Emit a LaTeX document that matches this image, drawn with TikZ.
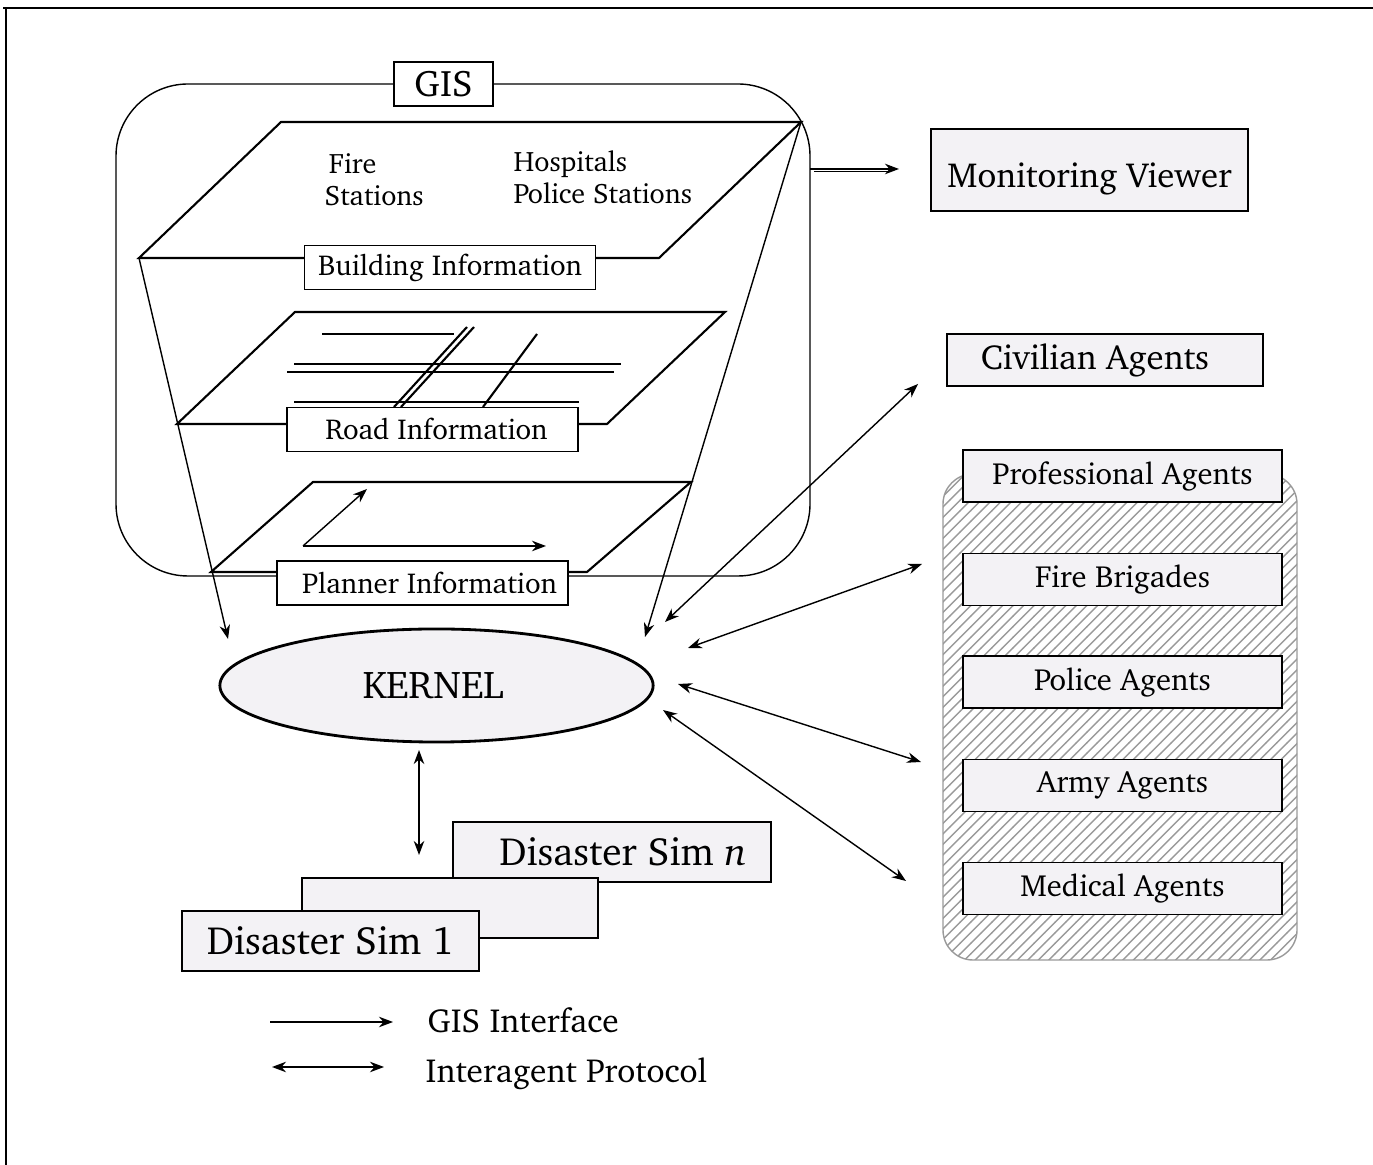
\documentclass[tikz,border=0pt]{standalone}
\usepackage[T1]{fontenc}
\renewcommand{\rmdefault}{bch}
\usepackage{tikz}
\usetikzlibrary{shapes.geometric,arrows.meta,patterns}
\definecolor{boxgrey}{HTML}{F3F2F5}
\definecolor{hatchgrey}{HTML}{9A9A9A}
\tikzset{
  layer/.style={line width=0.6pt},
  infolabel/.style={draw, fill=white, line width=0.5pt, minimum width=2.91cm, minimum height=0.44cm, inner sep=0pt, font=\fontsize{8.2}{9.5}\selectfont},
  agentbox/.style={draw, fill=boxgrey, line width=0.5pt, minimum width=3.19cm, minimum height=0.52cm, inner sep=0pt, font=\fontsize{8.7}{10}\selectfont},
  simbox/.style={draw, fill=boxgrey, line width=0.5pt, minimum height=0.6cm, inner sep=0pt, font=\fontsize{11.2}{13}\selectfont},
  plain/.style={inner sep=0pt, font=\fontsize{8}{9.1}\selectfont}
}

\begin{document}
\begin{tikzpicture}[x=0.01cm,y=-0.01cm,>={Stealth[length=4pt,width=3pt]},line width=0.4pt]
\useasboundingbox (0,0) rectangle (1373,1165);
% frame
\draw[line width=0.7pt] (3,8) -- (1373,8);
\draw[line width=0.7pt] (6,8) -- (6,1165);

% GIS
\draw[rounded corners=0.72cm] (116,84) rectangle (810,576);
\node[draw, fill=white, minimum width=0.99cm, minimum height=0.44cm, inner sep=0pt,
  font=\fontsize{10.5}{12}\selectfont] (gis) at (443.5,84) {GIS};

% building layer
\coordinate (bTL) at (281,122);
\coordinate (bTR) at (801,122);
\coordinate (bBR) at (659,258);
\coordinate (bBL) at (139,258);
\draw[layer] (bBL) -- (bTL) -- (bTR) -- (bBR) -- cycle;
\node[plain, align=left, anchor=west] (firest) at (324,180) {\hspace{1.2pt}Fire\\Stations};
\node[plain, align=left, anchor=west] (hosp) at (513,177) {Hospitals\\Police Stations};
\node[infolabel] (building) at (450,267.5) {Building Information};

% road layer
\draw[layer] (177,424) -- (295,312) -- (725,312) -- (607,424) -- cycle;
\draw[layer] (322,334) -- (454,334);
\draw[layer] (294,364) -- (621,364);
\draw[layer] (287,372) -- (614,372);
\draw[layer] (294,402) -- (579,402);
\draw[layer] (467,327) -- (394,407);
\draw[layer] (474,327) -- (401,407);
\draw[layer] (537,334) -- (483,407);
\node[infolabel] (road) at (432.5,429.5) {\hspace{0.08cm}Road Information};

% planner layer
\draw[layer] (211,572) -- (313,482) -- (691,482) -- (587,572) -- cycle;
\coordinate (pO) at (303,546);
\draw[->] (pO) -- (367,489);
\draw[->] (pO) -- (546,546);
\node[infolabel] (planner) at (422.5,583) {\hspace{0.14cm}Planner Information};

% kernel
\node[ellipse, draw, fill=boxgrey, line width=0.8pt, minimum width=4.33cm, minimum height=1.13cm,
  inner sep=0pt, font=\fontsize{11}{13}\selectfont] (kernel) at (436.5,685.5) {KERNEL\kern0.07cm};

% GIS interface arrows
\coordinate (kGl) at (228,639);
\coordinate (kGr) at (645,637);
\draw[->] (bBL) -- (kGl);
\draw[->] (bTR) -- (kGr);

% monitoring viewer
\node[draw, fill=boxgrey, line width=0.5pt, minimum width=3.17cm, minimum height=0.82cm, inner sep=0pt,
  text height=12.5pt, text depth=2.5pt,
  font=\fontsize{9.9}{11}\selectfont] (viewer) at (1089.5,170) {Monitoring Viewer};
\coordinate (mS) at (810,169);
\coordinate (mE) at (899,169);
\draw[->] (mS) -- (mE);
\draw (814,171.5) -- (890,171.5);

% agents
\node[draw, fill=boxgrey, line width=0.5pt, minimum width=3.16cm, minimum height=0.52cm, inner sep=0pt,
  font=\fontsize{9.9}{11}\selectfont] (civil) at (1105,360) {Civilian Agents\kern0.2cm};
\draw[hatchgrey, rounded corners=0.3cm, pattern=north east lines, pattern color=hatchgrey]
  (943,474) rectangle (1297,960);
\node[agentbox] (prof) at (1122.5,476) {Professional Agents};
\node[agentbox] (fire) at (1122.5,579.5) {Fire Brigades};
\node[agentbox] (police) at (1122.5,682) {Police Agents};
\node[agentbox] (army) at (1122.5,785.5) {Army Agents};
\node[agentbox] (medic) at (1122.5,888.5) {Medical Agents};

% interagent arrows
\coordinate (kC) at (665,622);
\coordinate (aC) at (918,384);
\coordinate (kF) at (688,648);
\coordinate (aF) at (922,564);
\coordinate (kA) at (678,684);
\coordinate (aA) at (921,762);
\coordinate (kM) at (663,710);
\coordinate (aM) at (906,881);
\draw[<->] (kC) -- (aC);
\draw[<->] (kF) -- (aF);
\draw[<->] (kA) -- (aA);
\draw[<->] (kM) -- (aM);

% disaster simulators
\node[simbox, minimum width=3.18cm] (simn) at (612,852) {\hspace{0.22cm}Disaster Sim \textit{n}};
\node[simbox, minimum width=2.96cm] (simmid) at (450,908) {};
\node[simbox, minimum width=2.97cm] (sim1) at (330.5,941) {Disaster Sim 1};
\coordinate (kS) at (419,750);
\coordinate (sS) at (419,855);
\draw[<->] (kS) -- (sS);

% legend
\coordinate (l1a) at (270,1022);
\coordinate (l1b) at (393,1022);
\coordinate (l2a) at (272,1067);
\coordinate (l2b) at (384,1067);
\draw[->] (l1a) -- (l1b);
\draw[<->] (l2a) -- (l2b);
\node[anchor=base west, inner sep=0pt, font=\fontsize{9.5}{11}\selectfont] (leg1) at (427,1033) {GIS Interface};
\node[anchor=base west, inner sep=0pt, font=\fontsize{9.5}{11}\selectfont] (leg2) at (425,1083) {Interagent Protocol};

\end{tikzpicture}
\end{document}
